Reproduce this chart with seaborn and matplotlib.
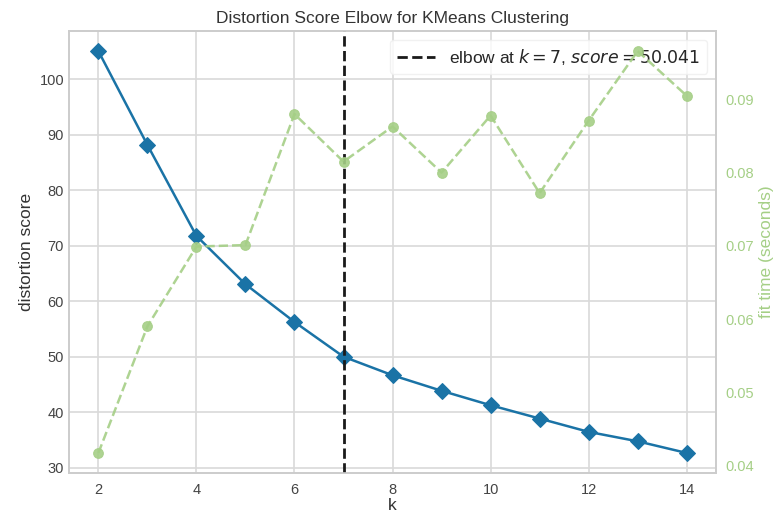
import matplotlib
matplotlib.use("Agg")
import matplotlib.pyplot as plt
import seaborn as sns
import pandas as pd

k_values = [2, 3, 4, 5, 6, 7, 8, 9, 10, 11, 12, 13, 14]
distortion = [105.1, 88.2, 71.8, 63.1, 56.3, 50.041, 46.7, 43.9, 41.3, 38.9, 36.5, 34.8, 32.7]
fit_time = [0.0417, 0.0590, 0.0699, 0.0701, 0.0880, 0.0815, 0.0863, 0.0800,
            0.0878, 0.0772, 0.0871, 0.0966, 0.0905]
elbow_k = 7
elbow_score = 50.041

sns.set_theme(style="whitegrid")
plt.rcParams["font.family"] = ["Liberation Sans", "DejaVu Sans"]
plt.rcParams["mathtext.fontset"] = "dejavusans"

blue = "#1a73a6"
green = "#a5cf86"
grid_c = "#d9d9d9"

df = pd.DataFrame({"k": k_values, "distortion": distortion, "fit_time": fit_time})

fig, ax = plt.subplots(figsize=(7.75, 5.17), dpi=100)
fig.subplots_adjust(left=0.089, right=0.924, top=0.94, bottom=0.085)

sns.lineplot(data=df, x="k", y="distortion", ax=ax, color=blue, marker="D",
             markersize=8, markeredgecolor=blue, linewidth=1.8, zorder=3)

ax.axvline(elbow_k, color="#1a1a1a", linestyle="--", linewidth=2,
           label=f"elbow at $k={elbow_k}$, $score={elbow_score:0.3f}$", zorder=4)

ax.set_title("Distortion Score Elbow for KMeans Clustering", fontsize=12.5, color="#333333")
ax.set_xlabel("k", fontsize=12.5, color="#333333", labelpad=1)
ax.set_ylabel("distortion score", fontsize=12.5, color="#333333")
ax.set_xticks([2, 4, 6, 8, 10, 12, 14])
ax.set_yticks([30, 40, 50, 60, 70, 80, 90, 100])
ax.tick_params(axis="both", colors="#444444", labelsize=10.5, length=0)
ax.tick_params(axis="x", pad=7)
ax.grid(True, color=grid_c, linewidth=1.2)

leg = ax.legend(loc="upper right", fontsize=12.5, frameon=True, framealpha=0.8,
                edgecolor="#eeeeee", facecolor="white", handlelength=2.2)

# timing curve on a secondary axis, drawn above the distortion curve
ax2 = ax.twinx()
sns.lineplot(data=df, x="k", y="fit_time", ax=ax2, color=green, marker="o",
             markersize=7, markeredgecolor=green, linestyle="--", linewidth=1.8,
             alpha=0.9)
ax2.grid(False)
ax2.set_ylabel("fit time (seconds)", color=green, fontsize=12.5, labelpad=3)
ax2.tick_params(axis="y", colors=green, labelsize=10.5, length=0, pad=7)
ax2.set_yticks([0.04, 0.05, 0.06, 0.07, 0.08, 0.09])

for a in (ax, ax2):
    for s in a.spines.values():
        s.set_color("#cccccc")
        s.set_linewidth(1.2)

fig.savefig("out.png", dpi=100)
